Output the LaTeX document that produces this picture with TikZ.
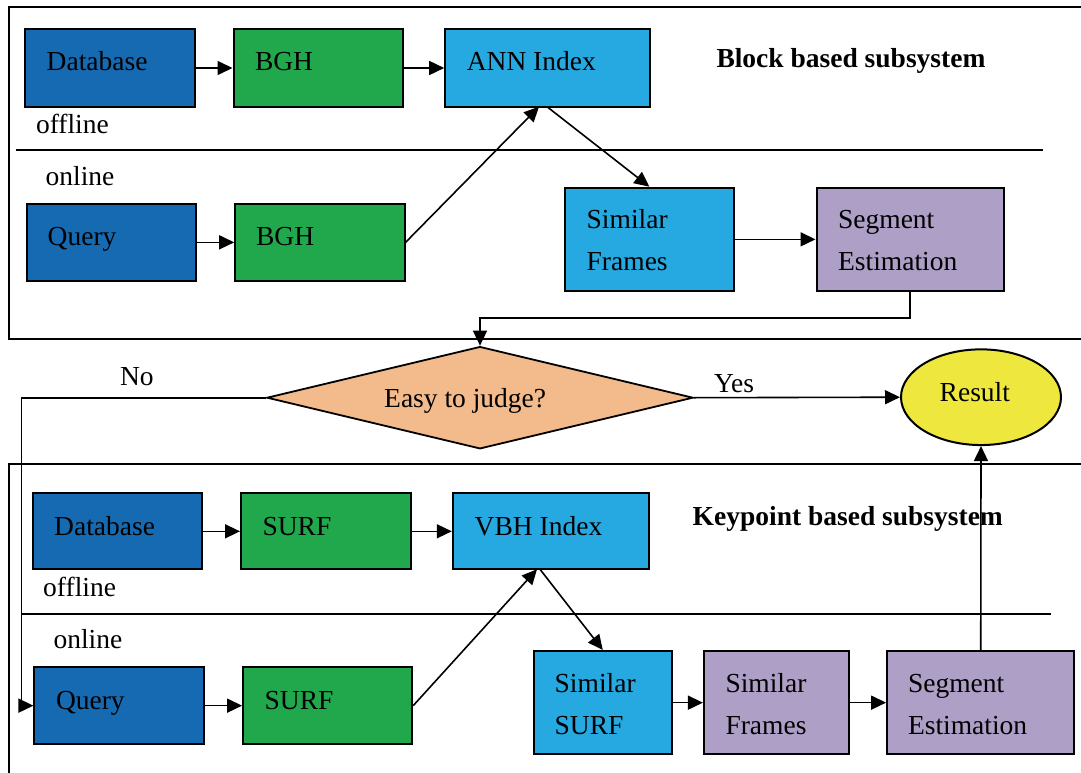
\documentclass[tikz,border=0pt]{standalone}
\usepackage{fontspec}
\setmainfont{Liberation Serif}
\usetikzlibrary{arrows.meta,shapes.geometric}
\definecolor{dblue}{RGB}{22,106,178}
\definecolor{dgreen}{RGB}{34,168,76}
\definecolor{lblue}{RGB}{38,168,224}
\definecolor{lpurple}{RGB}{174,159,198}
\definecolor{peach}{RGB}{243,187,140}
\definecolor{lyellow}{RGB}{238,232,62}
\begin{document}
\begin{tikzpicture}[x=1pt,y=-1pt,
  box/.style={draw=black, line width=2pt, inner sep=0pt, rectangle},
  txt/.style={anchor=base west, inner sep=0pt, font=\fontsize{27.5}{42}\selectfont},
  btxt/.style={anchor=base west, inner sep=0pt, font=\fontsize{27.5}{42}\selectfont\bfseries},
  arr/.style={line width=1.6pt, -{Triangle[length=15pt,width=14pt]}},
  frame/.style={line width=2pt},
  divider/.style={line width=1.8pt}]
\clip (0,0) rectangle (1081,773);
\fill[white] (0,0) rectangle (1081,773);

% outer frames
\draw[frame] (9.3,6.7) rectangle (1100,339);
\draw[frame] (9.3,464.3) rectangle (1100,800);

% dividers
\draw[divider] (15.5,150.3) -- (1043.4,150.3);
\draw[divider] (22.4,613.7) -- (1051.4,613.7);

% ---------- block based subsystem ----------
\node[box, fill=dblue, minimum width=169.8pt, minimum height=77.4pt] (db1) at (109.7,68) {};
\node[box, fill=dgreen, minimum width=169.4pt, minimum height=77.4pt] (bgh1) at (318.2,68) {};
\node[box, fill=lblue, minimum width=204.3pt, minimum height=77.4pt] (ann) at (547.35,68) {};
\node[box, fill=dblue, minimum width=169.8pt, minimum height=76.7pt] (q1) at (111.4,242.35) {};
\node[box, fill=dgreen, minimum width=169.4pt, minimum height=76.7pt] (bgh2) at (319.9,242.35) {};
\node[box, fill=lblue, minimum width=169.1pt, minimum height=103.3pt] (sf1) at (649.35,239.35) {};
\node[box, fill=lpurple, minimum width=187pt, minimum height=103.3pt] (se1) at (910,239.35) {};

\node[txt] (db1t) at (46.5,71) {Database};
\node[txt] (bgh1t) at (254.8,71) {BGH};
\node[txt] (annt) at (466.6,71) {ANN Index};
\node[txt] (q1t) at (47.5,245.7) {Query};
\node[txt] (bgh2t) at (255.9,245.7) {BGH};
\node[txt] (sf1t) at (586.5,228.3) {\begin{tabular}[t]{@{}l@{}}Similar\\Frames\end{tabular}};
\node[txt] (se1t) at (837.9,228.3) {\begin{tabular}[t]{@{}l@{}}Segment\\Estimation\end{tabular}};
\node[txt] (off1) at (35.8,133) {offline};
\node[txt] (on1) at (45.5,185) {online};
\node[btxt] (title1) at (716.3,68) {Block based subsystem};

\coordinate (annin) at (539,106.7);
\coordinate (annout) at (547,106.7);
\draw[arr] (db1) -- (bgh1);
\draw[arr] (bgh1) -- (ann);
\draw[arr] (q1) -- (bgh2);
\draw[arr] (bgh2.east) -- (annin);
\draw[arr] (annout) -- (sf1.north);
\draw[arr] (sf1) -- (se1);

% ---------- decision ----------
\node[draw=black, line width=1.8pt, diamond, fill=peach, minimum width=426.3pt, minimum height=102.3pt, inner sep=0pt] (dia) at (480,397.7) {};
\node[txt] (diat) at (384,407) {Easy to judge?};
\node[draw=black, line width=2pt, ellipse, fill=lyellow, minimum width=160pt, minimum height=95.7pt, inner sep=0pt] (res) at (981,397.2) {};
\node[txt] (rest) at (939.5,401.7) {Result};
\node[txt] (no) at (119.8,385) {No};
\node[txt] (yes) at (713.9,392.7) {Yes};

\coordinate (bend1) at (910,317.7);
\draw[arr] (se1.south) -- (bend1) -| (dia.north);
\draw[arr] (dia.east) -- (res.west);

% ---------- keypoint based subsystem ----------
\node[box, fill=dblue, minimum width=169.4pt, minimum height=76pt] (db2) at (117.4,531.3) {};
\node[box, fill=dgreen, minimum width=169.5pt, minimum height=76pt] (surf1) at (325.75,531.3) {};
\node[box, fill=lblue, minimum width=195.7pt, minimum height=76pt] (vbh) at (550.65,531.3) {};
\node[box, fill=dblue, minimum width=169.5pt, minimum height=76.7pt] (q2) at (119.15,705.65) {};
\node[box, fill=dgreen, minimum width=169.1pt, minimum height=76.7pt] (surf2) at (327.65,705.65) {};
\node[box, fill=lblue, minimum width=138.2pt, minimum height=103.3pt] (ss) at (602.8,702.65) {};
\node[box, fill=lpurple, minimum width=144.6pt, minimum height=103.3pt] (sf2) at (776.2,702.65) {};
\node[box, fill=lpurple, minimum width=187.3pt, minimum height=103.3pt] (se2) at (980.75,702.65) {};

\node[txt] (db2t) at (54,535) {Database};
\node[txt] (surf1t) at (262.4,535) {SURF};
\node[txt] (vbht) at (474.5,535) {VBH Index};
\node[txt] (q2t) at (55.8,709.3) {Query};
\node[txt] (surf2t) at (264.5,709.3) {SURF};
\node[txt] (sst) at (554.5,692.7) {\begin{tabular}[t]{@{}l@{}}Similar\\SURF\end{tabular}};
\node[txt] (sf2t) at (725.3,692.7) {\begin{tabular}[t]{@{}l@{}}Similar\\Frames\end{tabular}};
\node[txt] (se2t) at (907.8,692.7) {\begin{tabular}[t]{@{}l@{}}Segment\\Estimation\end{tabular}};
\node[txt] (off2) at (43,596.7) {offline};
\node[txt] (on2) at (53.4,648.3) {online};
\node[btxt] (title2) at (692.5,525) {Keypoint based subsystem};

\coordinate (vbhin) at (537,569.3);
\coordinate (vbhout) at (540,569.3);
\draw[arr] (db2) -- (surf1);
\draw[arr] (surf1) -- (vbh);
\draw[arr] (q2) -- (surf2);
\draw[arr] (surf2.east) -- (vbhin);
\draw[arr] (vbhout) -- (ss.north);
\draw[arr] (ss) -- (sf2);
\draw[arr] (sf2) -- (se2);
\draw[arr] (se2.north) -- (res.south);

\coordinate (nocorner) at (21.3,705.65);
\draw[arr] (dia.west) -| (nocorner) -- (q2.west);
\end{tikzpicture}
\end{document}
